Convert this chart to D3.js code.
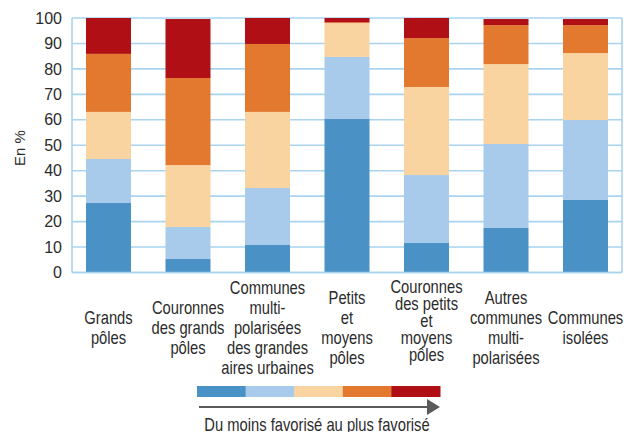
<!DOCTYPE html>
<html>
<head>
<meta charset="utf-8">
<script src="https://cdn.jsdelivr.net/npm/d3@7/dist/d3.min.js"></script>
<style>
  html, body { margin: 0; padding: 0; background: #fff; }
  svg { display: block; }
  .cat { font-family: "Liberation Sans", Arial, sans-serif; font-size: 18px; fill: #2b2b2b; }
  .tick { font-family: "Liberation Sans", Arial, sans-serif; font-size: 16px; fill: #2b2b2b; }
</style>
</head>
<body>
<svg id="chart" width="629" height="432"></svg>
<script>
// ---- Data ----
const categories = [
  "Grands pôles",
  "Couronnes des grands pôles",
  "Communes multi-polarisées des grandes aires urbaines",
  "Petits et moyens pôles",
  "Couronnes des petits et moyens pôles",
  "Autres communes multi-polarisées",
  "Communes isolées"
];
const categoryLines = [
  ["Grands", "pôles"],
  ["Couronnes", "des grands", "pôles"],
  ["Communes", "multi-", "polarisées", "des grandes", "aires urbaines"],
  ["Petits", "et", "moyens", "pôles"],
  ["Couronnes", "des petits", "et", "moyens", "pôles"],
  ["Autres", "communes", "multi-", "polarisées"],
  ["Communes", "isolées"]
];
const seriesKeys = ["q1", "q2", "q3", "q4", "q5"]; // du moins favorisé au plus favorisé
const q1 = [27.3, 5.3, 10.8, 60.3, 11.6, 17.5, 28.5];
const q2 = [17.3, 12.6, 22.4, 24.4, 26.7, 33.0, 31.4];
const q3 = [18.5, 24.3, 29.9, 13.3, 34.6, 31.4, 26.3];
const q4 = [22.8, 34.2, 26.7, 0.3, 19.2, 15.3, 11.0];
const q5 = [14.1, 23.2, 10.2, 1.7, 7.9, 2.4, 2.4];
const yTicks = [0, 10, 20, 30, 40, 50, 60, 70, 80, 90, 100];
const yLabel = "En %";
const legendCaption = "Du moins favorisé au plus favorisé";
const colors = ["#4a91c5", "#a8cbeb", "#f9d4a0", "#e2792f", "#b00f16"];

(function () {
// ---- Build table ----
const seriesValues = [q1, q2, q3, q4, q5];
const table = categories.map((c, i) => {
  const row = { cat: c };
  seriesKeys.forEach((k, j) => row[k] = seriesValues[j][i]);
  return row;
});

const svg = d3.select("#chart");
const mLeft = 72, mRight = 622, mTop = 18, mBottom = 272.5;
const narrow = 0.82;

const x = d3.scaleBand().domain(categories).range([mLeft, mRight])
  .paddingInner(0.434).paddingOuter(0.176);
const y = d3.scaleLinear().domain([0, 100]).range([mBottom, mTop]);
const color = d3.scaleOrdinal().domain(seriesKeys).range(colors);

const gridColor = "#a9d3ef";

// gridlines
svg.append("g").selectAll("line").data(yTicks).join("line")
  .attr("x1", mLeft).attr("x2", mRight)
  .attr("y1", d => y(d)).attr("y2", d => y(d))
  .attr("stroke", gridColor).attr("stroke-width", 1.6);
// frame verticals
svg.append("line").attr("x1", mLeft).attr("x2", mLeft).attr("y1", y(100)).attr("y2", y(0))
  .attr("stroke", gridColor).attr("stroke-width", 1.6);
svg.append("line").attr("x1", mRight).attr("x2", mRight).attr("y1", y(100)).attr("y2", y(0))
  .attr("stroke", gridColor).attr("stroke-width", 1.6);

// y tick labels
const yAxis = d3.axisLeft(y).tickValues(yTicks).tickSize(0).tickPadding(10).tickFormat(d3.format("d"));
const ya = svg.append("g").attr("transform", `translate(${mLeft},0)`).call(yAxis);
ya.select(".domain").remove();
ya.attr("font-size", null).attr("font-family", null);
ya.selectAll("text").attr("class", "tick").attr("fill", "#2b2b2b");

// y label
svg.append("text").attr("class", "tick")
  .attr("transform", `translate(25,148) rotate(-90)`)
  .attr("text-anchor", "middle").style("font-size", "15px").text(yLabel);

// stacked bars
const stack = d3.stack().keys(seriesKeys);
const stacked = stack(table);
svg.append("g").selectAll("g").data(stacked).join("g")
  .attr("fill", d => color(d.key))
  .selectAll("rect").data(d => d).join("rect")
  .attr("x", d => x(d.data.cat))
  .attr("width", x.bandwidth())
  .attr("y", d => y(d[1]))
  .attr("height", d => y(d[0]) - y(d[1]));

// bottom axis line
svg.append("line").attr("x1", mLeft).attr("x2", mRight).attr("y1", y(0)).attr("y2", y(0))
  .attr("stroke", gridColor).attr("stroke-width", 1.6);

// category labels
const labelCenterY = 328;
categories.forEach((c, i) => {
  const lines = categoryLines[i];
  const lh = (i === 4) ? 17 : 20;
  const cx = x(c) + x.bandwidth() / 2;
  const startY = labelCenterY - lh * (lines.length - 1) / 2 + (i === 4 ? -7 : 0);
  const t = svg.append("text").attr("class", "cat").attr("text-anchor", "middle")
    .attr("transform", `translate(${cx},${startY}) scale(${narrow},1)`);
  lines.forEach((ln, k) => {
    t.append("tspan").attr("x", 0).attr("y", k * lh).attr("dy", "0.35em").text(ln);
  });
});

// legend
const lx = d3.scaleBand().domain(seriesKeys).range([197, 440]);
svg.append("g").selectAll("rect").data(seriesKeys).join("rect")
  .attr("x", d => lx(d)).attr("y", 386)
  .attr("width", lx.bandwidth() + 0.5).attr("height", 11)
  .attr("fill", d => color(d));

svg.append("line").attr("x1", 199).attr("x2", 429).attr("y1", 407).attr("y2", 407)
  .attr("stroke", "#5a5a5a").attr("stroke-width", 2);
svg.append("path").attr("d", "M427,399 L440,407 L427,415 Z").attr("fill", "#5a5a5a");

svg.append("text").attr("class", "cat")
  .attr("transform", `translate(317,431) scale(${narrow},1)`)
  .attr("text-anchor", "middle").text(legendCaption);
})();
</script>
</body>
</html>
